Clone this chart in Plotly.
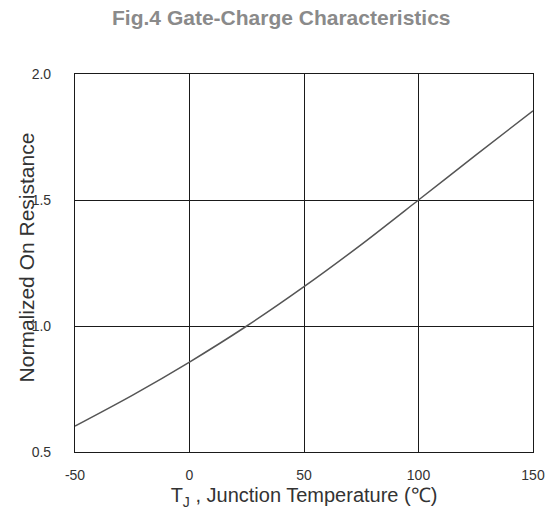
import plotly.graph_objects as go

# Junction temperature (°C) and normalized on-resistance
temp_c = [-50, -25, 0, 25, 50, 75, 100, 125, 150]
r_norm = [0.603, 0.725, 0.857, 1.0, 1.156, 1.323, 1.50, 1.678, 1.854]

x_ticks = [-50, 0, 50, 100, 150]
x_tick_text = ["-50", "0", "50", "100", "150"]
y_ticks = [0.5, 1.0, 1.5, 2.0]
y_tick_text = ["0.5", "1.0", "1.5", "2.0"]

FONT = "Liberation Sans, Arial"

fig = go.Figure()
fig.add_trace(go.Scatter(
    x=temp_c, y=r_norm, mode="lines",
    line=dict(color="#555555", width=1.5, shape="spline", smoothing=0.8),
    showlegend=False,
))

axis_common = dict(
    showgrid=True, gridcolor="#1a1a1a", gridwidth=1.2,
    showline=True, linecolor="#1a1a1a", linewidth=1.2, mirror=True,
    zeroline=False, ticks="",
    tickfont=dict(family=FONT, size=14, color="#333333"),
)

fig.update_layout(
    width=557, height=516,
    margin=dict(l=75, r=20, t=74, b=64),
    paper_bgcolor="white", plot_bgcolor="white",
    title=dict(
        text="<b>Fig.4 Gate-Charge Characteristics</b>",
        x=0.505, xanchor="center", y=0.965, yanchor="middle",
        font=dict(family=FONT, size=21, color="#8a8a8a"),
    ),
    xaxis=dict(
        range=[-50, 150], tickvals=x_ticks, ticktext=x_tick_text,
        ticklabelstandoff=10,
        title=dict(text="T<sub>J</sub> , Junction Temperature (℃)",
                   font=dict(family=FONT, size=20, color="#333333"),
                   standoff=6),
        **axis_common,
    ),
    yaxis=dict(
        range=[0.5, 2.0], tickvals=y_ticks, ticktext=y_tick_text,
        ticklabelstandoff=20,
        **axis_common,
    ),
    # y-axis title placed close to the tick labels, overlapping them slightly
    annotations=[dict(
        text="Normalized On Resistance",
        xref="paper", yref="paper",
        x=-0.106, y=0.516, xanchor="center", yanchor="middle",
        textangle=-90, showarrow=False,
        font=dict(family=FONT, size=21, color="#333333"),
    )],
)

fig.write_html("out.html")
